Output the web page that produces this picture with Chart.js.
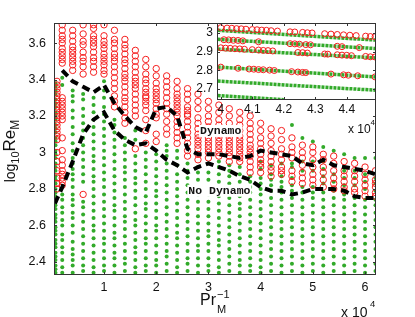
<!DOCTYPE html>
<html>
<head>
<meta charset="utf-8">
<script src="https://cdn.jsdelivr.net/npm/chart.js@4.4.1/dist/chart.umd.min.js"></script>
<style>
  html, body { margin: 0; padding: 0; background: #fff; }
  #wrap { position: relative; width: 415px; height: 317px; overflow: hidden; font-family: "Liberation Sans", Arial, sans-serif; color: #111; }
  #wrap canvas { position: absolute; left: 0; top: 0; }
  .lbl { position: absolute; white-space: nowrap; line-height: 1; }
  .sb { position: relative; top: 4px; }
</style>
</head>
<body>
<div id="wrap">
  <canvas id="mainChart" width="415" height="317"></canvas>
  <canvas id="insetChart" width="415" height="317"></canvas>
  <div class="lbl" id="ytitle" style="left:-29.6px;top:140px;width:80px;height:22px;line-height:22px;font-size:17px;text-align:center;transform:rotate(-90deg)"><span style="font-size:14px">log</span><span class="sb" style="font-size:11px">10</span>Re<span class="sb" style="font-size:12px">M</span></div>
  <span class="lbl" style="left:200px;top:291.5px;font-size:16px">Pr</span>
  <span class="lbl" style="left:217px;top:288.7px;font-size:11px">&minus;1</span>
  <span class="lbl" style="left:217px;top:303.7px;font-size:11px">M</span>
  <span class="lbl" style="left:341px;top:304.6px;font-size:14px">x 10</span>
  <span class="lbl" style="left:370px;top:298.6px;font-size:9.5px">4</span>
  <span class="lbl" style="left:348px;top:122.8px;font-size:12px">x 10</span>
  <span class="lbl" style="left:370.5px;top:119.2px;font-size:8px">4</span>
</div>
<script>
// columns of the parameter scan (Pr_M^-1)
const colX = [700, 1000, 2000, 4000, 6000, 8000, 10000, 12000, 14000, 16000, 18000, 20000,
  22000, 24000, 26000, 28000, 30000, 32000, 34000, 36000, 38000, 40000, 42000, 44000,
  46000, 48000, 50000, 52000, 54000, 56000, 58000, 60000, 62000];

// log10 Re_M of the runs without dynamo, one list per column
const greenY = [
  [2.34,2.36,2.38,2.41,2.43,2.45,2.48,2.5,2.52,2.55,2.57,2.59,2.62,2.64,2.66,2.69,2.71,2.73,2.76,2.78,2.8,2.83,2.85,2.87,2.9,2.92,2.94,2.97,2.99,3.01,3.04,3.06,3.08,3.11,3.13,3.15,3.18,3.2,3.22,3.25,3.27,3.29,3.32,3.34,3.36,3.38],
  [],
  [2.34,2.37,2.41,2.45,2.48,2.52,2.55,2.6,2.63,2.67,2.7,2.74,2.77,3.37,3.41],
  [2.34,2.38,2.41,2.44,2.47,2.51,2.56,2.6,2.64,2.67,2.71,2.74,2.77,2.81,2.85,2.88,2.91,2.94,2.97,3.01,3.05,3.1,3.14,3.19,3.23,3.28,3.31,3.34],
  [2.35,2.38,2.42,2.46,2.5,2.54,2.58,2.62,2.66,2.7,2.73,2.84,2.88,2.92,2.96,3.0,3.04,3.08,3.12,3.16,3.2,3.24,3.29,3.32],
  [2.34,2.37,2.41,2.45,2.49,2.53,2.57,2.6,2.64,2.68,2.72,2.76,2.8,2.84,2.87,2.91,2.95,2.98,3.02,3.06,3.1,3.14,3.18,3.22,3.26,3.3],
  [2.35,2.38,2.42,2.46,2.5,2.53,2.57,2.61,2.65,2.69,2.73,2.77,2.81,2.85,2.89,2.93,2.97,3.01,3.05,3.09,3.13,3.17,3.21,3.25,3.3,3.34,3.39],
  [2.34,2.38,2.42,2.45,2.49,2.53,2.56,2.6,2.64,2.68,2.71,2.75,2.79,2.83,2.87,2.91,2.95,2.99,3.03,3.07,3.11,3.15,3.18],
  [2.35,2.39,2.42,2.46,2.5,2.54,2.58,2.62,2.65,2.69,2.73,2.77,2.81,2.85,2.89,2.92,2.96,3.0,3.04,3.08],
  [2.34,2.37,2.41,2.45,2.48,2.52,2.56,2.6,2.63,2.67,2.71,2.75,2.79,2.83,2.86,2.9,2.94,2.98,3.07,3.12],
  [2.35,2.38,2.42,2.46,2.5,2.53,2.57,2.61,2.65,2.69,2.72,2.76,2.8,2.84,2.88,2.92,2.96,3.0],
  [2.34,2.38,2.41,2.45,2.49,2.53,2.57,2.6,2.64,2.68,2.72,2.76,2.79,2.83,2.87,2.91,2.95,2.99],
  [2.35,2.39,2.43,2.46,2.5,2.54,2.58,2.62,2.66,2.7,2.74,2.78,2.82,2.86,2.9,2.94,2.98,3.01,3.04],
  [2.34,2.37,2.41,2.45,2.49,2.53,2.56,2.6,2.64,2.68,2.72,2.76,2.8,2.84,2.88,2.93,2.97,3.01],
  [2.35,2.39,2.42,2.46,2.5,2.54,2.58,2.62,2.66,2.7,2.74,2.78,2.82,2.86,2.9,2.94],
  [2.34,2.38,2.42,2.46,2.49,2.53,2.57,2.61,2.65,2.69,2.73,2.77,2.81,2.85,2.89,2.92],
  [2.35,2.38,2.42,2.46,2.5,2.54,2.57,2.61,2.65,2.69,2.73,2.77,2.81,2.85,2.89,2.94],
  [2.34,2.37,2.41,2.45,2.49,2.52,2.56,2.6,2.64,2.68,2.72,2.76,2.8,2.84,2.88,2.92,2.95],
  [2.35,2.39,2.43,2.47,2.51,2.55,2.59,2.63,2.67,2.71,2.75,2.79,2.83,2.87,2.9,2.93],
  [2.34,2.38,2.41,2.45,2.49,2.53,2.57,2.61,2.65,2.69,2.72,2.76,2.8,2.84,2.88,2.92],
  [2.35,2.38,2.42,2.46,2.5,2.54,2.58,2.62,2.66,2.7,2.74,2.78,2.81,2.84,2.87],
  [2.34,2.37,2.41,2.45,2.49,2.53,2.57,2.61,2.65,2.69,2.73,2.77,2.8,2.83,2.86,2.91,2.95],
  [2.35,2.39,2.43,2.47,2.51,2.55,2.59,2.63,2.67,2.71,2.75,2.79,2.82,2.85,2.88,2.93],
  [2.34,2.38,2.42,2.46,2.5,2.54,2.58,2.62,2.66,2.7,2.74,2.78,2.81,2.84,2.87,2.94],
  [2.35,2.39,2.43,2.47,2.51,2.55,2.59,2.63,2.67,2.71,2.75,2.79,2.82,2.86,2.92,2.94,3.15],
  [2.34,2.38,2.42,2.46,2.5,2.54,2.58,2.62,2.66,2.7,2.74,2.78,2.81,2.9,2.95,3.08],
  [2.35,2.39,2.43,2.47,2.51,2.55,2.59,2.63,2.67,2.71,2.75,2.78,2.81,2.9,2.95,3.06],
  [2.34,2.38,2.42,2.46,2.5,2.54,2.58,2.62,2.66,2.7,2.74,2.78,2.83,2.87,2.91,2.95,3.03],
  [2.35,2.39,2.43,2.47,2.51,2.55,2.59,2.63,2.67,2.71,2.75,2.79,2.84,2.88,2.93,3.01],
  [2.34,2.38,2.42,2.46,2.5,2.54,2.58,2.62,2.66,2.7,2.74,2.77,2.82,2.86,2.9,2.92,2.99],
  [2.35,2.39,2.43,2.47,2.51,2.55,2.59,2.63,2.67,2.71,2.75,2.82,2.86,2.9,2.97],
  [2.34,2.38,2.42,2.46,2.5,2.54,2.58,2.62,2.66,2.7,2.74,2.8,2.84,2.88,2.97],
  [2.35,2.39,2.43,2.47,2.51,2.55,2.59,2.63,2.67,2.71,2.74,2.79,2.83,2.86,2.97]
];

// log10 Re_M of the dynamo runs, one list per column
const redY = [
  [],
  [2.8,2.83,2.86,2.9,2.95,3.0,3.07,3.09,3.11,3.13,3.15,3.17,3.19,3.21,3.23,3.25,3.27,3.29,3.31,3.33,3.35,3.37,3.39],
  [2.82,2.84,2.86,2.88,2.9,2.93,2.96,3.01,3.08,3.18,3.2,3.22,3.24,3.26,3.28,3.3,3.49,3.51,3.53,3.55,3.57,3.6,3.62,3.64,3.67,3.7],
  [3.45,3.48,3.5,3.52,3.54,3.56,3.58,3.61,3.64,3.67],
  [2.77,3.43,3.47,3.5,3.52,3.55,3.59,3.61,3.65,3.7],
  [3.44,3.47,3.5,3.52,3.55,3.58,3.6,3.62,3.64,3.68,3.7],
  [3.43,3.45,3.48,3.5,3.52,3.54,3.57,3.59,3.61,3.64,3.7],
  [3.25,3.28,3.31,3.35,3.38,3.41,3.44,3.47,3.5,3.52,3.54,3.57,3.6,3.62,3.67],
  [3.16,3.19,3.22,3.25,3.28,3.3,3.33,3.36,3.39,3.41,3.43,3.46,3.49,3.51,3.54,3.57,3.59,3.62],
  [3.02,3.2,3.23,3.26,3.29,3.32,3.35,3.37,3.39,3.41,3.44,3.47,3.5,3.53,3.56],
  [3.05,3.12,3.18,3.23,3.26,3.28,3.3,3.31,3.33,3.35,3.38,3.4,3.43,3.47,3.51],
  [3.06,3.1,3.19,3.21,3.24,3.27,3.29,3.31,3.33,3.35,3.38,3.42,3.46],
  [3.1,3.13,3.17,3.21,3.24,3.27,3.3,3.33,3.36,3.39,3.42],
  [3.05,3.08,3.11,3.14,3.17,3.2,3.22,3.24,3.26,3.28,3.3,3.32,3.35,3.39],
  [2.98,3.01,3.05,3.08,3.11,3.14,3.17,3.2,3.21,3.23,3.25,3.29,3.32,3.35],
  [2.96,2.99,3.02,3.04,3.06,3.08,3.1,3.13,3.16,3.19,3.24,3.28,3.32],
  [2.97,3.0,3.02,3.04,3.06,3.08,3.11,3.14,3.17,3.2,3.24,3.28],
  [2.98,3.0,3.02,3.04,3.06,3.08,3.1,3.12,3.15,3.18,3.22,3.26],
  [2.95,2.98,3.0,3.02,3.04,3.06,3.08,3.1,3.13,3.16,3.2,3.24],
  [2.95,2.97,2.99,3.01,3.03,3.05,3.07,3.09,3.12,3.15,3.18,3.22],
  [2.89,2.92,2.95,2.98,3.0,3.02,3.04,3.07,3.1,3.13,3.16,3.2],
  [2.89,2.92,2.94,2.96,2.99,3.02,3.05,3.08,3.12,3.16],
  [2.87,2.9,2.92,2.95,2.98,3.01,3.05,3.09,3.13],
  [2.88,2.9,2.92,2.96,2.99,3.02,3.07,3.12],
  [2.84,2.87,2.9,2.97,3.0,3.03,3.08],
  [2.83,2.86,2.89,2.93,2.97,3.0,3.04],
  [2.82,2.85,2.88,2.92,2.96,3.0,3.03],
  [2.81,2.85,2.89,2.92,2.96,2.99],
  [2.8,2.83,2.86,2.9,2.94,2.98],
  [2.79,2.81,2.84,2.87,2.9,2.95],
  [2.78,2.8,2.84,2.87,2.9,2.94],
  [2.76,2.79,2.82,2.85,2.88,2.92],
  [2.76,2.78,2.81,2.83,2.85,2.9]
];

// the two dashed boundaries
const upperX = [2000,4000,6000,8000,10000,12000,14000,16000,18000,20000,22000,24000,26000,28000,30000,
  32000,34000,36000,38000,40000,42000,44000,46000,48000,50000,52000,54000,56000,58000,60000,62000];
const upperY = [3.45,3.39,3.36,3.33,3.37,3.27,3.2,3.14,3.11,3.24,3.25,3.2,3.02,2.99,2.99,
  2.99,2.98,2.97,2.98,3.01,3.0,2.99,2.98,2.94,2.93,2.96,2.93,2.92,2.91,2.9,2.88];
const lowerX = [600,2000,4000,6000,8000,10000,12000,14000,16000,18000,20000,22000,24000,26000,28000,30000,
  32000,34000,36000,38000,40000,42000,44000,46000,48000,50000,52000,54000,56000,58000,60000,62000];
const lowerY = [2.72,2.81,2.95,3.1,3.18,3.22,3.12,3.07,3.04,3.05,3.01,2.96,2.93,2.89,2.92,2.94,
  2.92,2.9,2.87,2.85,2.81,2.79,2.79,2.77,2.78,2.8,2.8,2.8,2.79,2.76,2.75,2.75];

const xTicks = [10000, 20000, 30000, 40000, 50000, 60000];
const xTickLabels = ['1', '2', '3', '4', '5', '6'];
const yTicks = [2.4, 2.6, 2.8, 3, 3.2, 3.4, 3.6];
const yTickLabels = ['2.4', '2.6', '2.8', '3', '3.2', '3.4', '3.6'];

// inset: fine scan between 4 and 4.5 x 10^4
const insetXTicks = [40000, 41000, 42000, 43000, 44000];
const insetXTickLabels = ['4', '4.1', '4.2', '4.3', '4.4'];
const insetYTicks = [2.7, 2.8, 2.9, 3];
const insetYTickLabels = ['2.7', '2.8', '2.9', '3'];

const insetGreenStartX = [39900, 39900, 39900, 39900, 39900, 39900];
const insetGreenStartY = [3.013, 2.965, 2.913, 2.818, 2.743, 2.666];
const insetGreenEndX = [44930, 44930, 44930, 44930, 44930, 42000];
const insetGreenEndY = [2.961, 2.916, 2.866, 2.765, 2.694, 2.644];

const insetRedX = [
  40000,40200,40350,40500,40650,40800,41000,41150,41300,41450,41600,41800,42200,42350,42600,42750,42900,43300,43500,43700,43900,44100,44300,44600,44750,44900,
  40100,40250,40400,40550,40700,41200,42200,42350,42500,42700,42850,43700,43850,44400,
  40000,40150,40300,40450,40600,40750,41000,41200,41350,41500,41650,42450,42600,42750,43300,43400,43700,43850,44000,44150,44600,44750,44900,
  40000,40550,40900,41050,41200,41350,41550,41700,42250,42450,42600,42700,43500,43900,44050,44350,44900
];
const insetRedY = [
  3.027,3.025,3.024,3.022,3.021,3.019,3.017,3.016,3.014,3.013,3.011,3.009,3.005,3.004,3.002,3.0,2.999,2.995,2.993,2.991,2.989,2.987,2.985,2.982,2.98,2.979,
  2.963,2.962,2.96,2.959,2.957,2.952,2.942,2.941,2.939,2.937,2.936,2.928,2.926,2.921,
  2.92,2.918,2.917,2.915,2.914,2.912,2.91,2.908,2.906,2.905,2.903,2.895,2.894,2.892,2.887,2.886,2.883,2.881,2.88,2.878,2.874,2.872,2.871,
  2.817,2.811,2.807,2.806,2.804,2.803,2.801,2.799,2.793,2.791,2.789,2.788,2.78,2.776,2.774,2.771,2.765
];

const GREEN = 'rgb(50,170,42)';
const RED = 'rgb(245,30,30)';
const AXIS = '#333';
const FONT = 'Liberation Sans';

const notes = [
  { text: 'Dynamo', x: 28390, y: 3.118 },
  { text: 'No Dynamo', x: 26150, y: 2.79 }
];

const greenPts = [];
const redPts = [];
colX.forEach((x, i) => {
  greenY[i].forEach((y) => greenPts.push({ x, y }));
  redY[i].forEach((y) => redPts.push({ x, y }));
});
const upperPts = upperX.map((x, i) => ({ x, y: upperY[i] }));
const lowerPts = lowerX.map((x, i) => ({ x, y: lowerY[i] }));

// box around the axes with MATLAB style inward ticks
const frame = {
  id: 'frame',
  afterDraw(chart) {
    const { ctx, chartArea: a, scales } = chart;
    ctx.save();
    ctx.strokeStyle = AXIS;
    ctx.lineWidth = 1;
    ctx.beginPath();
    scales.x.ticks.forEach((t) => {
      const p = Math.round(scales.x.getPixelForValue(t.value)) + 0.5;
      ctx.moveTo(p, a.bottom); ctx.lineTo(p, a.bottom - 3);
      ctx.moveTo(p, a.top); ctx.lineTo(p, a.top + 3);
    });
    scales.y.ticks.forEach((t) => {
      const p = Math.round(scales.y.getPixelForValue(t.value)) + 0.5;
      ctx.moveTo(a.left, p); ctx.lineTo(a.left + 3, p);
      ctx.moveTo(a.right, p); ctx.lineTo(a.right - 3, p);
    });
    ctx.stroke();
    ctx.strokeRect(a.left + 0.5, a.top + 0.5, a.right - a.left - 1, a.bottom - a.top - 1);
    ctx.restore();
  }
};

const labels = {
  id: 'labels',
  afterDatasetsDraw(chart) {
    const { ctx, scales } = chart;
    ctx.save();
    ctx.font = 'bold 11.5px "Liberation Mono"';
    ctx.textBaseline = 'middle';
    notes.forEach((n) => {
      const px = scales.x.getPixelForValue(n.x);
      const py = scales.y.getPixelForValue(n.y);
      const w = ctx.measureText(n.text).width;
      ctx.fillStyle = '#fff';
      ctx.fillRect(px - 1, py - 6, w + 2, 12);
      ctx.fillStyle = '#111';
      ctx.fillText(n.text, px, py);
    });
    ctx.restore();
  }
};

const whiteArea = {
  id: 'whiteArea',
  beforeDraw(chart) {
    const { ctx, chartArea: a } = chart;
    ctx.save();
    ctx.fillStyle = '#fff';
    ctx.fillRect(a.left, a.top, a.right - a.left, a.bottom - a.top);
    ctx.restore();
  }
};

function axisOptions(min, max, tickValues, tickLabels, size, pad, fontSize) {
  return {
    type: 'linear',
    min,
    max,
    grid: { display: false, drawTicks: false },
    border: { display: false },
    afterBuildTicks: (s) => { s.ticks = tickValues.map((v) => ({ value: v })); },
    afterFit: (s) => {
      if (s.isHorizontal()) s.height = size; else s.width = size;
    },
    ticks: {
      autoSkip: false,
      maxRotation: 0,
      padding: pad,
      color: '#111',
      font: { family: FONT, size: fontSize },
      callback: (v, i) => tickLabels[i]
    }
  };
}

new Chart(document.getElementById('mainChart'), {
  type: 'scatter',
  data: {
    datasets: [
      { data: upperPts, showLine: true, borderColor: '#000', borderWidth: 4, borderDash: [8, 5], pointRadius: 0, order: 0 },
      { data: lowerPts, showLine: true, borderColor: '#000', borderWidth: 4, borderDash: [8, 5], pointRadius: 0, order: 0 },
      { data: redPts, pointStyle: 'circle', pointRadius: 3.2, borderColor: RED, backgroundColor: 'rgba(0,0,0,0)', borderWidth: 1, order: 1 },
      { data: greenPts, pointStyle: 'circle', pointRadius: 2, backgroundColor: GREEN, borderWidth: 0, order: 2 }
    ]
  },
  options: {
    responsive: false,
    animation: false,
    devicePixelRatio: 1,
    events: [],
    layout: { padding: { left: 0, right: 39, top: 23, bottom: 0 } },
    plugins: { legend: { display: false }, tooltip: { enabled: false } },
    scales: {
      x: axisOptions(420, 62100, xTicks, xTickLabels, 42, 5, 12.5),
      y: axisOptions(2.328, 3.71, yTicks, yTickLabels, 54, 8, 12.5)
    }
  },
  plugins: [frame, labels]
});

const insetGreen = insetGreenStartX.map((x0, i) => ({
  data: [{ x: x0, y: insetGreenStartY[i] }, { x: insetGreenEndX[i], y: insetGreenEndY[i] }],
  showLine: true,
  borderColor: GREEN,
  borderWidth: 3.5,
  borderDash: [3, 1],
  pointRadius: 0,
  order: 1
}));

new Chart(document.getElementById('insetChart'), {
  type: 'scatter',
  data: {
    datasets: [
      {
        data: insetRedX.map((x, i) => ({ x, y: insetRedY[i] })),
        pointStyle: 'circle', pointRadius: 3, borderColor: RED, backgroundColor: 'rgba(0,0,0,0)', borderWidth: 1, order: 0
      },
      ...insetGreen
    ]
  },
  options: {
    responsive: false,
    animation: false,
    devicePixelRatio: 1,
    events: [],
    layout: { padding: { left: 177, right: 39, top: 23, bottom: 187 } },
    plugins: { legend: { display: false }, tooltip: { enabled: false } },
    scales: {
      x: axisOptions(39880, 44930, insetXTicks, insetXTickLabels, 30, 2, 12),
      y: axisOptions(2.642, 3.052, insetYTicks, insetYTickLabels, 40, 4, 12)
    }
  },
  plugins: [whiteArea, frame]
});
</script>
</body>
</html>
